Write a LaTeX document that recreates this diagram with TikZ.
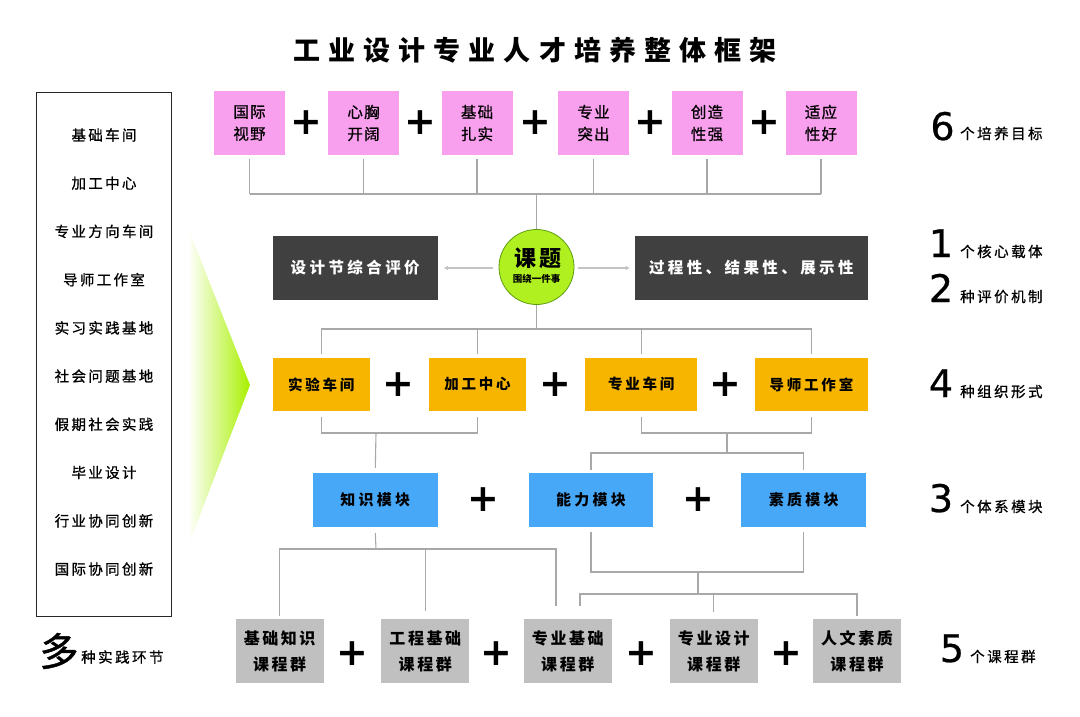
\documentclass[tikz,border=0pt]{standalone}
\usepackage{fontspec}
\newfontfamily\cjk{Noto Sans CJK SC}
\newfontfamily\dv{DejaVu Sans}
\usetikzlibrary{arrows.meta,shapes.geometric}
\definecolor{pinkc}{HTML}{F8A0EE}
\definecolor{darkc}{HTML}{404040}
\definecolor{orangec}{HTML}{F8B500}
\definecolor{bluec}{HTML}{48A8F8}
\definecolor{grayc}{HTML}{C0C0C0}
\definecolor{limec}{HTML}{B0F020}
\definecolor{limeb}{HTML}{5C9C10}
\definecolor{linec}{HTML}{A8A8A8}
\definecolor{arrc}{HTML}{C4C4C4}
\definecolor{gradc}{HTML}{A8F000}
\newcommand{\cfb}[3]{\cjk\bfseries\fontsize{#1}{#2}\selectfont\addfontfeature{LetterSpace=#3}}
\newcommand{\cfm}[3]{\cjk\fontsize{#1}{#2}\selectfont\addfontfeature{LetterSpace=#3,FakeBold=0.8}}
\begin{document}
\begin{tikzpicture}[x=1pt,y=-1pt,
  pinkbox/.style={rectangle,fill=pinkc,minimum width=71pt,minimum height=64pt,inner sep=0,align=center,font=\cfm{15.5}{22}{8}},
  darkbox/.style={rectangle,fill=darkc,text=white,minimum height=64pt,inner sep=0,font=\cfb{15.5}{18}{22}},
  orangebox/.style={rectangle,fill=orangec,minimum height=53.3pt,inner sep=0,font=\cfb{14.5}{17}{19}},
  bluebox/.style={rectangle,fill=bluec,minimum width=124.5pt,minimum height=54pt,inner sep=0,font=\cfb{15}{18}{22}},
  graybox/.style={rectangle,fill=grayc,minimum width=88pt,minimum height=64pt,inner sep=0,align=center,font=\cfb{16}{26}{16}},
  plus/.style={inner sep=0,font=\dv\bfseries\fontsize{38}{38}\selectfont},
  conn/.style={draw=linec,line width=1.1pt},
  arr/.style={draw=arrc,line width=1.2pt,-{Triangle[length=4pt,width=4pt]}},
  ltext/.style={inner sep=0,font=\cfm{14.5}{17}{16}},
  bignum/.style={inner sep=0,anchor=base,font=\dv\fontsize{38}{38}\selectfont\addfontfeature{FakeBold=0.6}},
  rtext/.style={inner sep=0,anchor=base west,font=\cfm{14.5}{17}{17}}
]
\useasboundingbox (0,0) rectangle (1080,717);
\fill[white] (0,0) rectangle (1080,717);

% title
\node[inner sep=0,font=\cfb{27}{30}{30}] (title) at (535,50) {工业设计专业人才培养整体框架};

% left panel
\node[draw=black!85,line width=0.8pt,minimum width=135pt,minimum height=524pt,inner sep=0] (lp) at (103.5,354) {};
\node[ltext] (l1) at (104,135) {基础车间};
\node[ltext] (l2) at (104,183.2) {加工中心};
\node[ltext] (l3) at (104,231.4) {专业方向车间};
\node[ltext] (l4) at (104,279.7) {导师工作室};
\node[ltext] (l5) at (104,327.9) {实习实践基地};
\node[ltext] (l6) at (104,376.1) {社会问题基地};
\node[ltext] (l7) at (104,424.3) {假期社会实践};
\node[ltext] (l8) at (104,472.5) {毕业设计};
\node[ltext] (l9) at (104,520.8) {行业协同创新};
\node[ltext] (l10) at (104,569) {国际协同创新};
\shade[left color=white,right color=gradc] (190,233) -- (250,385) -- (188,546) -- cycle;
\node[inner sep=0,font=\cjk\fontsize{39}{39}\selectfont\addfontfeature{FakeBold=1.2}] (duo) at (59,651) {多};
\node[inner sep=0,anchor=west,font=\cfm{14.5}{17}{17}] (duot) at (81,657) {种实践环节};

% pink row
\node[pinkbox] (p1) at (249.5,123) {国际\\视野};
\node[pinkbox] (p2) at (363.5,123) {心胸\\开阔};
\node[pinkbox] (p3) at (477,123) {基础\\扎实};
\node[pinkbox] (p4) at (593.5,123) {专业\\突出};
\node[pinkbox] (p5) at (707,123) {创造\\性强};
\node[pinkbox] (p6) at (821,123) {适应\\性好};
\node[plus] (pa1) at (306.5,123) {+};
\node[plus] (pa2) at (420.5,123) {+};
\node[plus] (pa3) at (535,123) {+};
\node[plus] (pa4) at (650.5,123) {+};
\node[plus] (pa5) at (764,123) {+};
\coordinate (j1) at (536.5,194);
\foreach \p in {p1,p2,p3,p4,p5,p6}
  \draw[conn] ([yshift=-4pt]\p.south) -- (\p.south |- j1);
\draw[conn] (p1.south |- j1) -- (p6.south |- j1);

% circle and evaluation
\node[circle,fill=limec,draw=limeb,line width=0.8pt,minimum size=75pt,inner sep=0] (c) at (536.5,267) {};
\node[inner sep=0,font=\cfb{22}{22}{10}] (ct) at (538,258) {课题};
\node[inner sep=0,font=\cfb{9.5}{10}{0}] (cs) at (536.5,279) {围绕一件事};
\draw[conn] (j1) -- (c.north);
\node[darkbox,minimum width=165pt] (d1) at (355.2,268) {设计节综合评价};
\node[darkbox,minimum width=233pt] (d2) at (751.3,268) {过程性、结果性、展示性};
\draw[arr,shorten <=6pt,shorten >=6pt] (c.west |- d1.east) -- (d1.east);
\draw[arr,shorten <=4pt,shorten >=5pt] (c.east |- d2.west) -- (d2.west);

% orange row
\node[orangebox,minimum width=97.4pt] (o1) at (321.3,384.4) {实验车间};
\node[orangebox,minimum width=97.2pt] (o2) at (477.4,384.4) {加工中心};
\node[orangebox,minimum width=112.5pt] (o3) at (641.2,384.4) {专业车间};
\node[orangebox,minimum width=113pt] (o4) at (811.5,384.4) {导师工作室};
\node[plus] (pb1) at (398,385) {+};
\node[plus] (pb2) at (555.6,385) {+};
\node[plus] (pb3) at (725.6,385) {+};
\coordinate (j2) at (536.5,329);
\draw[conn] (c.south) -- (j2);
\draw[conn] (o1.north |- j2) -- (o4.north |- j2);
\foreach \o in {o1,o2,o3,o4}
  \draw[conn] (\o.north |- j2) -- ([yshift=4pt]\o.north);

% blue row
\node[bluebox] (b1) at (375.3,500) {知识模块};
\node[bluebox] (b2) at (591,500) {能力模块};
\node[bluebox] (b3) at (803.7,500) {素质模块};
\node[plus] (pc1) at (483,500) {+};
\node[plus] (pc2) at (698,500) {+};
\coordinate (j3) at (376,433);
\draw[conn] ([yshift=-5.3pt]o1.south) -- (o1.south |- j3) -- (o2.south |- j3) -- ([yshift=-5.3pt]o2.south);
\draw[conn] (j3) -- ([yshift=5pt]b1.north);
\coordinate (j4) at (727,433);
\coordinate (j5) at (727,453);
\draw[conn] ([yshift=-5.3pt]o3.south) -- (o3.south |- j4) -- (o4.south |- j4) -- ([yshift=-5.3pt]o4.south);
\draw[conn] (j4) -- (j5);
\draw[conn] ([yshift=3pt]b2.north) -- (b2.north |- j5) -- (b3.north |- j5) -- ([yshift=3pt]b3.north);

% gray row
\node[graybox] (g1) at (279.6,651) {基础知识\\课程群};
\node[graybox] (g2) at (425.3,651) {工程基础\\课程群};
\node[graybox] (g3) at (567.8,651) {专业基础\\课程群};
\node[graybox] (g4) at (713.8,651) {专业设计\\课程群};
\node[graybox] (g5) at (857,651) {人文素质\\课程群};
\node[plus] (pd1) at (352,654) {+};
\node[plus] (pd2) at (496,654) {+};
\node[plus] (pd3) at (641.4,654) {+};
\node[plus] (pd4) at (786,654) {+};
\coordinate (j6) at (376,549);
\draw[conn] ([yshift=-6pt]b1.south) -- (j6);
\draw[conn] ([yshift=3pt]g1.north) -- (g1.north |- j6) -- ([xshift=-11.8pt]g3.north |- j6) -- ([xshift=-11.8pt,yshift=13pt]g3.north);
\draw[conn] (g2.north |- j6) -- ([yshift=8pt]g2.north);
\coordinate (j7) at (698,572);
\coordinate (j8) at (698,594);
\draw[conn] ([yshift=-5pt]b2.south) -- (b2.south |- j7) -- (b3.south |- j7) -- ([yshift=-5pt]b3.south);
\draw[conn] (j7) -- (j8);
\draw[conn] ([xshift=12.2pt,yshift=13pt]g3.north) -- ([xshift=12.2pt]g3.north |- j8) -- (g5.north |- j8) -- ([yshift=3pt]g5.north);
\draw[conn] (g4.north |- j8) -- ([yshift=7.3pt]g4.north);

% right labels
\node[bignum] (n6) at (942.5,140) {6};
\node[rtext] (t6) at (960,139) {个培养目标};
\node[bignum] (n1) at (941,257) {1};
\node[rtext] (t1) at (960,257) {个核心载体};
\node[bignum] (n2) at (941,302) {2};
\node[rtext] (t2) at (960,302) {种评价机制};
\node[bignum] (n4) at (941,397) {4};
\node[rtext] (t4) at (960,397) {种组织形式};
\node[bignum] (n3) at (941,512) {3};
\node[rtext] (t3) at (960,512) {个体系模块};
\node[bignum] (n5) at (952,662) {5};
\node[rtext] (t5) at (970,662) {个课程群};
\end{tikzpicture}
\end{document}
